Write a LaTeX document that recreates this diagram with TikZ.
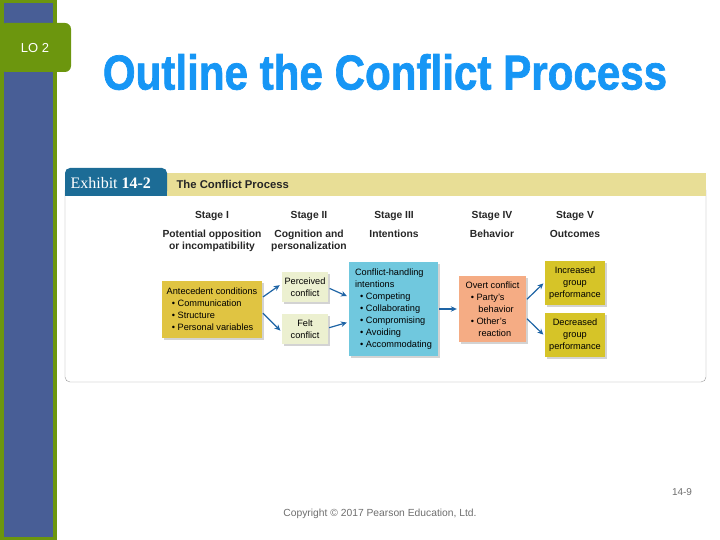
\documentclass[tikz,border=0pt]{standalone}
\usepackage{fontspec}
\setmainfont{Liberation Sans}
\newfontfamily\exfont{Liberation Serif}
\newfontfamily\ttlfont[FakeBold=1.5]{Liberation Sans Bold}
\usetikzlibrary{shadows,arrows.meta}
\definecolor{lobar}{RGB}{108,150,14}
\definecolor{loblue}{RGB}{72,94,150}
\definecolor{ttlblue}{RGB}{22,150,245}
\definecolor{exblue}{RGB}{28,108,150}
\definecolor{exsand}{RGB}{232,222,150}
\definecolor{antgold}{RGB}{224,196,66}
\definecolor{perclight}{RGB}{236,240,208}
\definecolor{intblue}{RGB}{112,200,222}
\definecolor{overtpink}{RGB}{245,172,132}
\definecolor{outgold}{RGB}{214,196,40}
\definecolor{arrblue}{RGB}{30,100,165}
\definecolor{footgray}{RGB}{110,110,110}
\tikzset{
  stagehd/.style={font=\fontsize{10.3}{12}\selectfont\bfseries,align=center,text=black!85},
  cbox/.style={draw=none,inner sep=3pt,align=left,font=\fontsize{9.2}{12}\selectfont,
    drop shadow={shadow xshift=2pt,shadow yshift=-2pt,opacity=0.35}},
  flow/.style={-{Stealth[length=6pt,width=5.5pt]},line width=1.2pt,draw=arrblue,shorten >=2pt,shorten <=1pt}
}
\begin{document}
\begin{tikzpicture}[x=1pt,y=-1pt]
  \useasboundingbox (0,0) rectangle (720,540);
  % side bar
  \fill[lobar] (0,0) rectangle (57,540);
  \fill[loblue] (4,3) rectangle (53,537);
  \fill[lobar,rounded corners=6pt] (0,23) rectangle (71,72);
  \node[text=white,font=\fontsize{13}{15}\selectfont] (lo) at (35,48) {LO 2};
  % title
  \node[text=ttlblue,font=\ttlfont\fontsize{49}{54}\selectfont] (title) at (385,72)
    {\scalebox{0.86}[1]{Outline the Conflict Process}};
  % exhibit frame
  \draw[black!40,rounded corners=5pt] (65,190) -- (65,382) -- (706,382) -- (706,190);
  \fill[exsand] (160,173) rectangle (706,196);
  \fill[exblue,rounded corners=5pt] (65,196) -- (65,168) -- (167,168) -- (167,196) -- cycle;
  \fill[exblue] (65,185) rectangle (167,196);
  \node[text=white,font=\exfont\fontsize{16}{18}\selectfont,anchor=west] (exno) at (67,183) {Exhibit \textbf{14-2}};
  \node[text=black!85,font=\fontsize{11.3}{13}\selectfont\bfseries,anchor=west] (extitle) at (173,184) {The Conflict Process};
  % stage headings
  \node[stagehd] (s1) at (212,216) {Stage I};
  \node[stagehd] (s2) at (309,216) {Stage II};
  \node[stagehd] (s3) at (394,216) {Stage III};
  \node[stagehd] (s4) at (492,216) {Stage IV};
  \node[stagehd] (s5) at (575,216) {Stage V};
  \node[stagehd,anchor=north] (h1) at (212,227) {Potential opposition\\or incompatibility};
  \node[stagehd,anchor=north] (h2) at (309,227) {Cognition and\\personalization};
  \node[stagehd,anchor=north] (h3) at (394,227) {Intentions};
  \node[stagehd,anchor=north] (h4) at (492,227) {Behavior};
  \node[stagehd,anchor=north] (h5) at (575,227) {Outcomes};
  % boxes
  \node[cbox,fill=antgold,minimum width=100pt,minimum height=57pt] (ant) at (212,309.5)
    {Antecedent conditions\\
     \ \ \textbullet\ Communication\\
     \ \ \textbullet\ Structure\\
     \ \ \textbullet\ Personal variables};
  \node[cbox,fill=perclight,align=center,minimum width=46pt,minimum height=30pt] (perc) at (305,287) {Perceived\\conflict};
  \node[cbox,fill=perclight,align=center,minimum width=46pt,minimum height=30pt] (felt) at (305,329) {Felt\\conflict};
  \node[cbox,fill=intblue,minimum width=89pt,minimum height=94pt] (intent) at (393.5,309)
    {Conflict-handling\\
     intentions\\
     \ \ \textbullet\ Competing\\
     \ \ \textbullet\ Collaborating\\
     \ \ \textbullet\ Compromising\\
     \ \ \textbullet\ Avoiding\\
     \ \ \textbullet\ Accommodating};
  \node[cbox,fill=overtpink,minimum width=67pt,minimum height=66pt] (overt) at (492.5,309)
    {Overt conflict\\
     \ \ \textbullet\ Party's\\
     \ \ \ \ \ behavior\\
     \ \ \textbullet\ Other's\\
     \ \ \ \ \ reaction};
  \node[cbox,fill=outgold,align=center,minimum width=60pt,minimum height=44pt] (incr) at (575,283) {Increased\\group\\performance};
  \node[cbox,fill=outgold,align=center,minimum width=60pt,minimum height=44pt] (decr) at (575,335) {Decreased\\group\\performance};
  % arrows
  \draw[flow] ([yshift=12pt]ant.east) -- ([yshift=3pt]perc.west);
  \draw[flow] ([yshift=-3pt]ant.east) -- ([yshift=-3pt]felt.west);
  \draw[flow] ([yshift=-1pt]perc.east) -- ([yshift=12pt]intent.west);
  \draw[flow] ([yshift=1pt]felt.east) -- ([yshift=-13pt]intent.west);
  \draw[flow] (intent.east) -- (overt.west);
  \draw[flow] ([yshift=9pt]overt.east) -- ([yshift=1pt]incr.west);
  \draw[flow] ([yshift=-9pt]overt.east) -- ([yshift=-1pt]decr.west);
  % footer
  \node[text=footgray,font=\fontsize{10}{12}\selectfont] (pg) at (682,492) {14-9};
  \node[text=footgray,font=\fontsize{10.3}{12}\selectfont] (copy) at (380,514) {Copyright \textcopyright\ 2017 Pearson Education, Ltd.};
\end{tikzpicture}
\end{document}
